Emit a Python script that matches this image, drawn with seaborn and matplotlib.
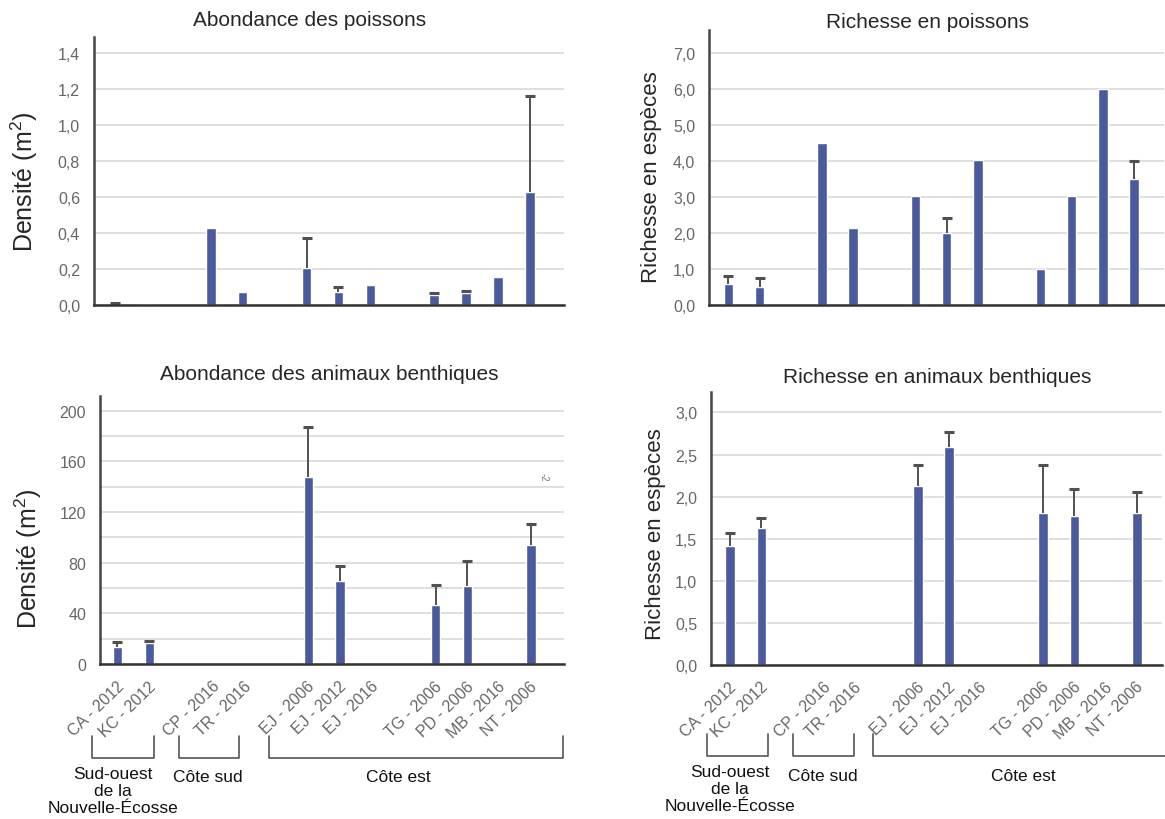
import numpy as np
import pandas as pd
import matplotlib
matplotlib.use("Agg")
import matplotlib.pyplot as plt
import seaborn as sns
from matplotlib.transforms import blended_transform_factory, ScaledTranslation

# ---------------- data ----------------
sites = ["CA - 2012", "KC - 2012", "CP - 2016", "TR - 2016", "EJ - 2006",
         "EJ - 2012", "EJ - 2016", "TG - 2006", "PD - 2006", "MB - 2016", "NT - 2006"]
block_sizes = [2, 2, 3, 4]          # sites per block; an empty slot separates blocks
nan = np.nan

fish_abund = [0.010, 0.005, 0.43, 0.072, 0.204, 0.072, 0.111, 0.056, 0.065, 0.157, 0.628]
fish_abund_top = [0.013, nan, nan, nan, 0.37, 0.098, nan, 0.069, 0.080, nan, 1.161]

fish_rich = [0.57, 0.48, 4.48, 2.13, 3.02, 1.98, 4.01, 1.00, 3.02, 5.99, 3.49]
fish_rich_top = [0.80, 0.75, nan, nan, nan, 2.41, nan, nan, nan, nan, 4.00]

benth_abund = [13.7, 16.3, nan, nan, 147.4, 65.8, nan, 46.8, 61.6, nan, 93.7]
benth_abund_top = [17.1, 18.4, nan, nan, 187.1, 77.4, nan, 62.4, 81.3, nan, 110.8]

benth_rich = [1.41, 1.63, nan, nan, 2.12, 2.59, nan, 1.81, 1.77, nan, 1.81]
benth_rich_top = [1.57, 1.74, nan, nan, 2.38, 2.77, nan, 2.38, 2.09, nan, 2.06]

titles = ["Abondance des poissons", "Richesse en poissons",
          "Abondance des animaux benthiques", "Richesse en animaux benthiques"]
group_names = [["Sud-ouest", "de la", "Nouvelle-Écosse"], ["Côte sud"], ["Côte est"]]

# ---------------- style ----------------
sns.set_style("white")
plt.rcParams["font.family"] = ["Liberation Sans", "DejaVu Sans"]
plt.rcParams["mathtext.fontset"] = "custom"
plt.rcParams["mathtext.rm"] = "Liberation Sans"
plt.rcParams["mathtext.it"] = "Liberation Sans"

BAR = "#4a5b9d"
ERR = "#505050"
GRID = "#dcdcdc"
TICK = "#666666"

W, H = 1165, 820
fig = plt.figure(figsize=(W / 100, H / 100), dpi=100)

def fx(px):
    return px / W

def fy(py):
    return 1 - py / H

# category order with blank separator slots
order = []
i = 0
for b, n in enumerate(block_sizes):
    order += sites[i:i + n]
    i += n
    if b < len(block_sizes) - 1:
        order.append(" " * (b + 1))
pos = {c: k for k, c in enumerate(order)}

def axes_px(left, right, top, bottom):
    return fig.add_axes([fx(left), fy(bottom), fx(right) - fx(left), fy(top) - fy(bottom)])

def panel(ax, vals, tops, ylim, yticks, ylabels, xlim):
    df = pd.DataFrame({"site": sites, "val": vals})
    sns.barplot(data=df, x="site", y="val", order=order, color=BAR,
                width=0.3, errorbar=None, ax=ax, saturation=1)
    xs = np.array([pos[s] for s in sites])
    v = np.array(vals, float)
    t = np.array(tops, float)
    m = ~np.isnan(t)
    _, caps, _ = ax.errorbar(xs[m], v[m], yerr=[np.zeros(m.sum()), (t - v)[m]],
                             fmt="none", ecolor=ERR, elinewidth=1.4, capsize=3.4,
                             capthick=2.2, zorder=1)
    # only the upper cap is visible in the reference
    if len(caps) == 2:
        caps[0].set_visible(False)
    ax.set_ylim(*ylim)
    ax.set_xlim(*xlim)
    ax.set_yticks(yticks)
    ax.set_yticklabels(ylabels)
    ax.grid(axis="y", color=GRID, linewidth=1.3)
    ax.set_axisbelow(True)
    for s in ["top", "right"]:
        ax.spines[s].set_visible(False)
    ax.spines["left"].set_color("#444444")
    ax.spines["left"].set_linewidth(1.8)
    ax.spines["bottom"].set_color("#333333")
    ax.spines["bottom"].set_linewidth(1.8)
    ax.tick_params(axis="y", length=0, pad=10, labelsize=11.5, labelcolor=TICK)
    ax.tick_params(axis="x", length=0)
    ax.set_xlabel("")
    ax.set_ylabel("")

def fmt(vals, dec):
    return [f"{x:.{dec}f}".replace(".", ",") for x in vals]

# --- top-left
ax1 = axes_px(94, 564, 37.7, 306)
yt = np.arange(0, 1.41, 0.2)
panel(ax1, fish_abund, fish_abund_top, (0, 1.49), yt, fmt(yt, 1), (-0.66, 14.07))
ax1.tick_params(axis="x", labelbottom=False)

# --- top-right
ax2 = axes_px(709, 1164, 30.7, 305.7)
yt = np.arange(0, 7.01, 1.0)
panel(ax2, fish_rich, fish_rich_top, (0, 7.64), yt, fmt(yt, 1), (-0.62, 13.96))
ax2.tick_params(axis="x", labelbottom=False)

# --- bottom-left
ax3 = axes_px(100, 564, 396.7, 665)
yt = np.arange(0, 201, 20)
panel(ax3, benth_abund, benth_abund_top, (0, 211.8), yt,
      [f"{int(x)}" if x % 40 == 0 else "" for x in yt], (-0.55, 14.04))

# --- bottom-right
ax4 = axes_px(711, 1162, 393.3, 665.7)
yt = np.arange(0, 3.01, 0.5)
panel(ax4, benth_rich, benth_rich_top, (0, 3.24), yt, fmt(yt, 1), (-0.61, 13.8))

for ax in (ax3, ax4):
    ax.tick_params(axis="x", labelsize=11.5, labelcolor=TICK, pad=14)
    off = ScaledTranslation(4 / 100, 0, fig.dpi_scale_trans)
    for lab in ax.get_xticklabels():
        lab.set_rotation(44)
        lab.set_ha("right")
        lab.set_va("center")
        lab.set_rotation_mode("anchor")
        lab.set_transform(lab.get_transform() + off)

# titles
fig.text(fx(310), fy(21), titles[0], ha="center", va="center", fontsize=15)
fig.text(fx(927), fy(23), titles[1], ha="center", va="center", fontsize=15)
fig.text(fx(329), fy(375), titles[2], ha="center", va="center", fontsize=15)
fig.text(fx(937), fy(378), titles[3], ha="center", va="center", fontsize=15)

# y labels
dens = "Densité (m$^{2}$)"
fig.text(fx(24), fy(182), dens, rotation=90, ha="center", va="center", fontsize=18)
fig.text(fx(28), fy(559), dens, rotation=90, ha="center", va="center", fontsize=18)
fig.text(fx(651), fy(177), "Richesse en espèces", rotation=90, ha="center", va="center", fontsize=16)
fig.text(fx(656), fy(534), "Richesse en espèces", rotation=90, ha="center", va="center", fontsize=16)

# stray mark in the benthic abundance panel
fig.text(fx(544), fy(477), "-2", rotation=-90, ha="center", va="center", fontsize=7, color="#777777")

# group brackets
def brackets(ax, spans, y_top, y_bot, labels, label_xy):
    tr = blended_transform_factory(ax.transData, fig.transFigure)
    for (a, b) in spans:
        ax.plot([a, a, b, b], [fy(y_top), fy(y_bot), fy(y_bot), fy(y_top)],
                transform=tr, color="#555555", lw=1.2, clip_on=False)
    for lines, (x, y) in zip(labels, label_xy):
        for k, line in enumerate(lines):
            ax.text(x, fy(y + 16.7 * k), line, transform=tr, ha="center", va="center",
                    fontsize=12.5, color="#111111")

brackets(ax3, [(-0.80, 1.15), (1.93, 3.82), (4.76, 14.0)], 737, 759,
         group_names, [(-0.14, 775), (2.83, 778), (8.82, 778)])
brackets(ax4, [(-0.73, 1.21), (2.01, 3.96), (4.57, 14.5)], 735, 757,
         group_names, [(0.0, 773), (2.96, 777), (9.36, 777)])

fig.savefig("out.png", dpi=100)
